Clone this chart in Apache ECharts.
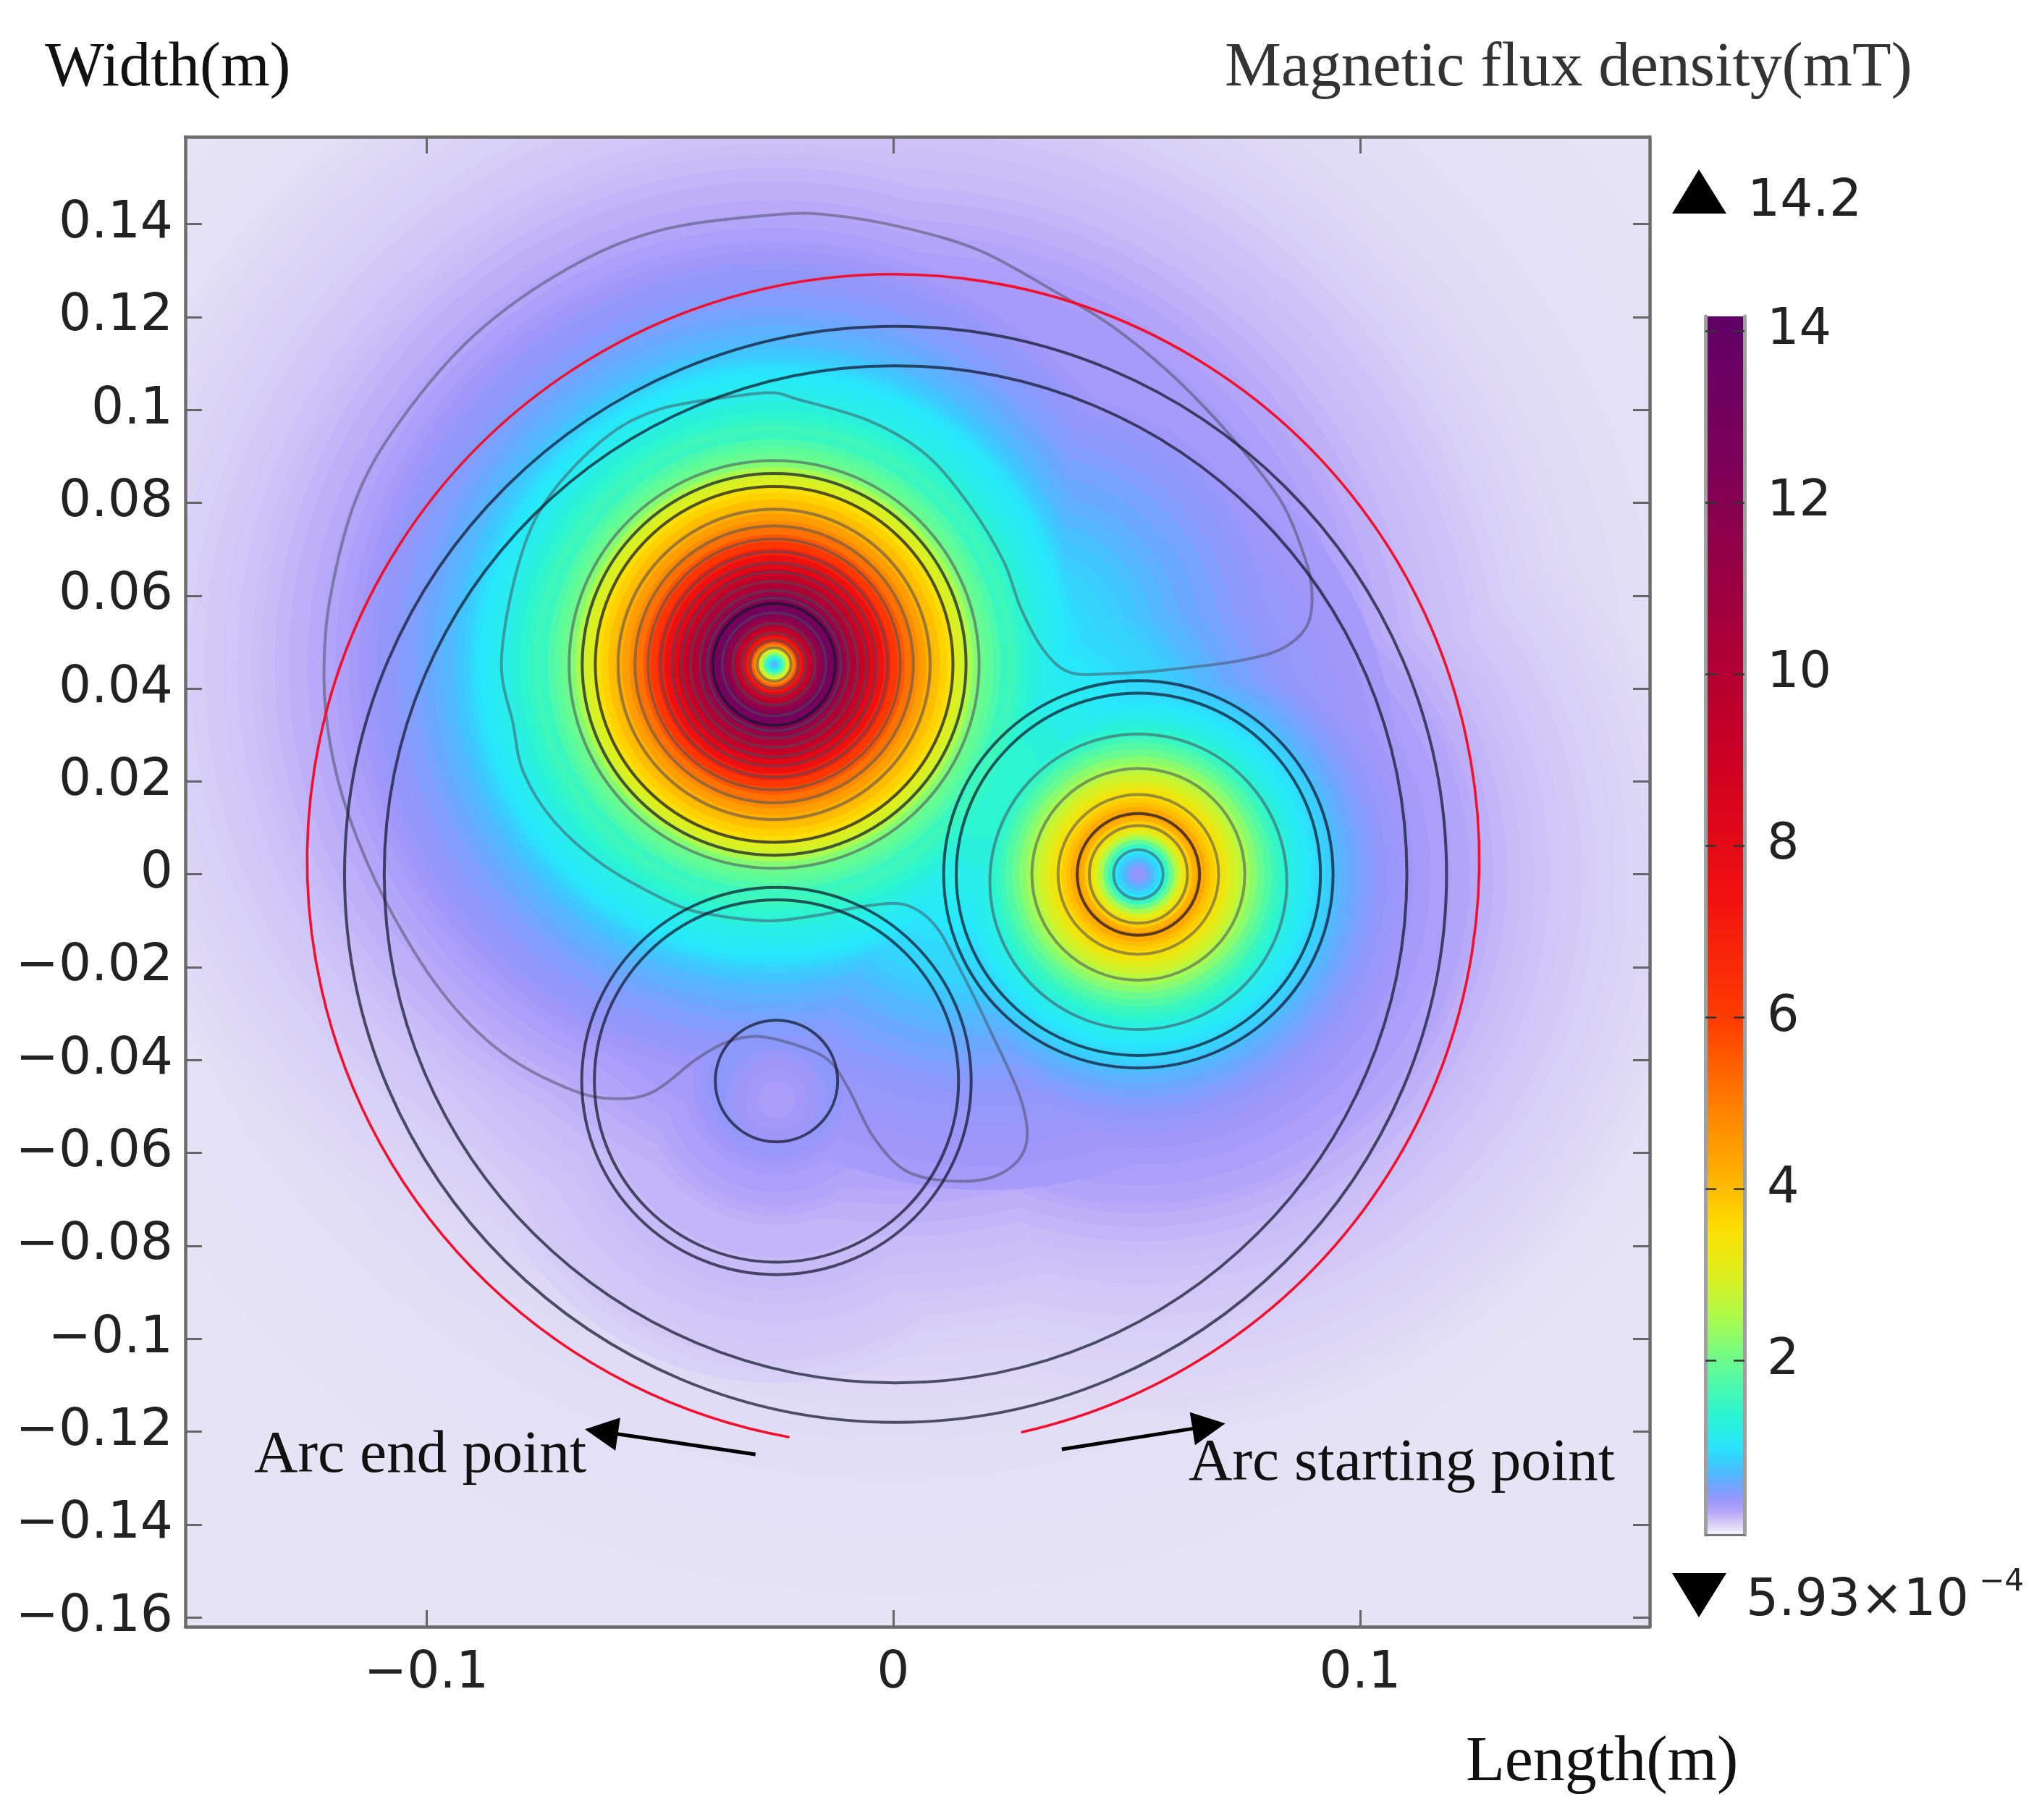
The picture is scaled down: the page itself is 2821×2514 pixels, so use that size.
<!DOCTYPE html>
<html>
<head>
<meta charset="utf-8">
<script src="https://cdn.jsdelivr.net/npm/echarts@6/dist/echarts.min.js"></script>
<style>
  html, body { margin: 0; padding: 0; background: #fff; }
  #chart { width: 2821px; height: 2514px; }
</style>
</head>
<body>
<div id="chart"></div>
<script>
// tick values
var xTicks = [-0.1, 0, 0.1];
var yTicks = [0.14, 0.12, 0.1, 0.08, 0.06, 0.04, 0.02, 0, -0.02, -0.04, -0.06, -0.08, -0.1, -0.12, -0.14, -0.16];
var barTicks = [2, 4, 6, 8, 10, 12, 14];

// conductor centres
var mainCentre = [-0.0255, 0.0452];
var rightCentre = [0.0525, 0];
var bottomCentre = [-0.025, -0.0445];
var gapCentre = [0.02, 0.02];
var tongueCentre = [0.03, 0.05];
var cableCentre = [0, 0.035];
var dipCentre = [-0.025, -0.0485];

// iso-bands of the field (mT) and how far each band reaches from each centre (m)
var bandValues = [0.055, 0.0625, 0.07, 0.0775, 0.085, 0.0925, 0.1, 0.1125, 0.125, 0.1375,
  0.15, 0.1625, 0.175, 0.1875, 0.2, 0.22, 0.24, 0.26, 0.28, 0.305,
  0.33, 0.355, 0.38, 0.4, 0.42,
  0.46, 0.5, 0.55, 0.6, 0.65, 0.7, 0.75, 0.8, 0.85, 0.9,
  0.95, 1.0, 1.05, 1.1, 1.15, 1.2, 1.3, 1.4, 1.5, 1.6];
var mainBandRadii = [0.16, 0.153, 0.147, 0.145, 0.142, 0.139, 0.136, 0.132, 0.129, 0.125,
  0.122, 0.118, 0.115, 0.112, 0.11, 0.107, 0.104, 0.1, 0.097, 0.094,
  0.091, 0.089, 0.087, 0.086, 0.085,
  0.082, 0.08, 0.077, 0.075, 0.073, 0.071, 0.069, 0.068, 0.0665, 0.0655,
  0.065, 0.0642, 0.063, 0.0615, 0.06, 0.0585, 0.0565, 0.0545, 0.0528, 0.0515];
var rightBandRadii = [0.13, 0.125, 0.12, 0.117, 0.115, 0.112, 0.109, 0.105, 0.102, 0.098,
  0.095, 0.091, 0.088, 0.085, 0.082, 0.079, 0.076, 0.073, 0.071, 0.067,
  0.0625, 0.059, 0.056, 0.0545, 0.053,
  0.0515, 0.05, 0.048, 0.0465, 0.045, 0.0435, 0.0425, 0.0415, 0.041, 0.04,
  0.039, 0.038, 0.037, 0.036, 0.035, 0.034, 0.0328, 0.0315, 0.0305, 0.0295];
var gapBandRadii = [0, 0, 0, 0, 0, 0, 0, 0, 0, 0,
  0, 0, 0, 0, 0, 0, 0, 0, 0, 0,
  0.088, 0.083, 0.078, 0.074, 0.07,
  0.067, 0.064, 0.061, 0.058, 0.055, 0.053, 0.05, 0.048, 0.046, 0.044,
  0.04, 0.036, 0.033, 0.03, 0.027, 0.024, 0.018, 0.012, 0, 0];
var tongueBandRadii = [0, 0, 0, 0, 0, 0, 0, 0, 0, 0,
  0, 0, 0, 0, 0, 0, 0, 0, 0, 0,
  0.056, 0.054, 0.052, 0.051, 0.05,
  0.047, 0.043, 0.04, 0.036, 0.032, 0.029, 0.026, 0.023, 0.02, 0.017,
  0.013, 0.01, 0, 0, 0, 0, 0, 0, 0, 0];
var cableBandRadii = [0.19, 0.177, 0.165, 0.157, 0.15, 0.146, 0.143, 0.139, 0.136, 0.133,
  0.13, 0.127, 0.125, 0.121, 0.117, 0.113, 0.11, 0.106, 0.103, 0.099,
  0.095, 0, 0, 0, 0,
  0, 0, 0, 0, 0, 0, 0, 0, 0, 0,
  0, 0, 0, 0, 0, 0, 0, 0, 0, 0];
var bottomBandRadii = [0, 0, 0, 0, 0, 0, 0, 0, 0.065, 0.062,
  0.06, 0.056, 0.052, 0.048, 0.045, 0.038, 0.031, 0.029, 0.027, 0.024,
  0.02, 0.018, 0.0165, 0.0155, 0.0145,
  0.013, 0, 0, 0, 0, 0, 0, 0, 0, 0,
  0, 0, 0, 0, 0, 0, 0, 0, 0, 0];

// radial profiles close to the conductors, outermost first
var mainProfileRadii = [0.05, 0.0485, 0.047, 0.0455, 0.0439, 0.0425, 0.0415, 0.0405, 0.0395, 0.0383, 0.037, 0.0355, 0.034, 0.0325, 0.031, 0.0295, 0.028, 0.0265, 0.025, 0.0235, 0.022, 0.0205, 0.019, 0.0175, 0.016, 0.0148, 0.0136, 0.0125, 0.0115, 0.0105, 0.0095, 0.0087, 0.008, 0.0073, 0.0066, 0.006, 0.0054, 0.0048, 0.0043, 0.0038, 0.0034, 0.003, 0.0026, 0.0022, 0.0018, 0.0014, 0.001, 0.0006];
var mainProfileValues = [1.55, 1.75, 1.9, 2.0, 2.2, 2.5, 2.8, 2.95, 3.05, 3.5, 3.75, 4.0, 4.2, 4.5, 4.8, 5.2, 5.6, 6.2, 6.9, 7.6, 8.2, 8.9, 9.6, 10.3, 11.1, 11.9, 12.6, 13, 12.6, 11.8, 11, 10.2, 9.5, 8.8, 8, 7.2, 6.4, 5.4, 4.7, 3.9, 3.3, 2.8, 2.3, 1.9, 1.5, 1.2, 0.9, 0.65];
var rightProfileRadii = [0.0285, 0.027, 0.0255, 0.024, 0.0228, 0.0215, 0.02, 0.0188, 0.0176, 0.0165, 0.0155, 0.0145, 0.0135, 0.0125, 0.0115, 0.0105, 0.0095, 0.0085, 0.0075, 0.0065, 0.0055, 0.0045, 0.0035, 0.0025, 0.0015];
var rightProfileValues = [1.8, 2, 2.25, 2.45, 2.65, 2.9, 3.1, 3.35, 3.55, 3.8, 4, 4.3, 4.6, 4.2, 3.8, 3.4, 3, 2.5, 2, 1.5, 1.1, 0.9, 0.72, 0.55, 0.42];
var dipProfileRadii = [0.011, 0.009, 0.0065, 0.004];
var dipProfileValues = [0.4, 0.37, 0.34, 0.31];

// drawn outlines (m)
var cableCentreX = 0.0005;
var cableRings = [0.1095, 0.118];
var mainShieldRings = [0.0383, 0.0411];
var sideShieldRings = [0.039, 0.0417];
var coreRing = 0.0131;
var mainContours = [0.0036, 0.0052, 0.0068, 0.0088, 0.0111, 0.0143, 0.0159, 0.0179, 0.0199, 0.0219, 0.0243, 0.027, 0.0298, 0.0334, 0.0439];
var rightContours = [0.0053, 0.0105, 0.0172, 0.0228];
var rightOuterContour = [0.0525, -0.0016, 0.0318];
var redArc = [0, 0.003, 0.1255, -77.4, 259.8];

// the single lobed contour that wraps the main conductor
var lobeX = [-0.0257, -0.0129, 0.0029, 0.0188, 0.0346, 0.0465, 0.0583, 0.0687, 0.0774, 0.0836, 0.0876, 0.0896, 0.0888, 0.0836, 0.0741, 0.0583, 0.0465, 0.0378, 0.0322, 0.0274, 0.0236, 0.0164, 0.007, -0.005, -0.0208, -0.0257, -0.0344, -0.0502, -0.062, -0.074, -0.0803, -0.0839, -0.0814, -0.0792, -0.0727, -0.0619, -0.0467, -0.0369, -0.0259, -0.015, -0.0064, 0.0023, 0.0088, 0.0143, 0.0208, 0.0273, 0.0285, 0.024, 0.0153, 0.0034, -0.0042, -0.0096, -0.014, -0.0216, -0.0291, -0.0358, -0.0423, -0.051, -0.0586, -0.0684, -0.0836, -0.0967, -0.1087, -0.1167, -0.1206, -0.1219, -0.1206, -0.115, -0.1056, -0.0898, -0.0699, -0.0502];
var lobeY = [0.142, 0.1419, 0.1391, 0.1342, 0.1255, 0.1183, 0.1088, 0.0984, 0.0881, 0.0794, 0.0698, 0.0619, 0.0539, 0.0488, 0.046, 0.044, 0.0432, 0.0435, 0.0483, 0.0571, 0.0675, 0.0794, 0.0904, 0.0976, 0.1024, 0.1037, 0.1029, 0.1001, 0.0937, 0.0809, 0.0666, 0.046, 0.0324, 0.022, 0.0115, 0.0019, -0.0065, -0.009, -0.01, -0.0086, -0.0069, -0.0065, -0.0108, -0.0204, -0.0337, -0.0483, -0.058, -0.0639, -0.0661, -0.0642, -0.0566, -0.0461, -0.0399, -0.0365, -0.0349, -0.0362, -0.0399, -0.0466, -0.0483, -0.0466, -0.0385, -0.0253, -0.0058, 0.0129, 0.0282, 0.0427, 0.0594, 0.0809, 0.0976, 0.116, 0.1303, 0.1386];

// arrows to the arc ends: from, to
var endArrow = [[-0.0295, -0.1249], [-0.0625, -0.12]];
var startArrow = [[0.0361, -0.1238], [0.0676, -0.1188]];

// colour scale anchors
var scaleValues = [0, 0.05, 0.2, 0.33, 0.45, 0.6, 0.8, 1.05, 1.4, 1.9, 2.5, 3, 3.6, 4.2, 4.8, 6, 7.5, 9, 11, 12.5, 14.2];
var scaleColors = ["#f4f2fc", "#e6e3f5", "#c8bcf8", "#a696f9", "#8e98fb", "#6aa8ff", "#3fc6ff", "#27e8fb", "#2cf5d0", "#5cfb9c", "#a8fb50", "#dcf020", "#ffdc00", "#ffb000", "#ff8c00", "#ff3c00", "#f01010", "#cc0022", "#9c0040", "#7c0058", "#600068"];

function sampleScale(step) {
  var out = [];
  for (var v = 0; v <= 14.2 + 1e-9; v += step) {
    var i = 0;
    while (i < scaleValues.length - 2 && v > scaleValues[i + 1]) i++;
    var t = (v - scaleValues[i]) / (scaleValues[i + 1] - scaleValues[i]);
    out.push(echarts.color.lerp(Math.min(t, 1), [scaleColors[i], scaleColors[i + 1]]));
  }
  return out;
}

// field discs painted low to high, each one is [cx, cy, r, value]
var fieldDiscs = [];
function addDisc(centre, r, v) {
  if (r > 0) fieldDiscs.push([centre[0], centre[1], r, v]);
}
bandValues.forEach(function (v, i) {
  addDisc(cableCentre, cableBandRadii[i], v);
  addDisc(mainCentre, mainBandRadii[i], v);
  addDisc(rightCentre, rightBandRadii[i], v);
  addDisc(gapCentre, gapBandRadii[i], v);
  addDisc(tongueCentre, tongueBandRadii[i], v);
  addDisc(bottomCentre, bottomBandRadii[i], v);
});
dipProfileRadii.forEach(function (r, i) { addDisc(dipCentre, r, dipProfileValues[i]); });
mainProfileRadii.forEach(function (r, i) { addDisc(mainCentre, r, mainProfileValues[i]); });
rightProfileRadii.forEach(function (r, i) { addDisc(rightCentre, r, rightProfileValues[i]); });

// outlines, each one is [cx, cy, r]
var blackRings = [];
cableRings.forEach(function (r) { blackRings.push([cableCentreX, 0, r]); });
mainShieldRings.forEach(function (r) { blackRings.push([mainCentre[0], mainCentre[1], r]); });
sideShieldRings.forEach(function (r) {
  blackRings.push([rightCentre[0], rightCentre[1], r]);
  blackRings.push([bottomCentre[0], bottomCentre[1], r]);
});
[mainCentre, rightCentre, bottomCentre].forEach(function (c) { blackRings.push([c[0], c[1], coreRing]); });

var grayRings = [rightOuterContour];
mainContours.forEach(function (r) { grayRings.push([mainCentre[0], mainCentre[1], r]); });
rightContours.forEach(function (r) { grayRings.push([rightCentre[0], rightCentre[1], r]); });

var lobeLine = lobeX.map(function (x, i) { return [x, lobeY[i]]; });

function discItem(params, api) {
  var c = api.coord([api.value(0), api.value(1)]);
  var s = api.size([api.value(2), api.value(2)]);
  return {
    type: "ellipse",
    shape: { cx: c[0], cy: c[1], rx: s[0], ry: s[1] },
    style: { fill: api.visual("color") },
  };
}

function ringItem(stroke, width) {
  return function (params, api) {
    var c = api.coord([api.value(0), api.value(1)]);
    var s = api.size([api.value(2), api.value(2)]);
    return {
      type: "ellipse",
      shape: { cx: c[0], cy: c[1], rx: s[0], ry: s[1] },
      style: { fill: null, stroke: stroke, lineWidth: width },
    };
  };
}

function arcItem(params, api) {
  var c = api.coord([api.value(0), api.value(1)]);
  var s = api.size([api.value(2), api.value(2)]);
  return {
    type: "arc",
    shape: {
      cx: c[0],
      cy: c[1],
      r: s[0],
      startAngle: (-api.value(3) * Math.PI) / 180,
      endAngle: (-api.value(4) * Math.PI) / 180,
      clockwise: false,
    },
    style: { fill: null, stroke: "#f2102e", lineWidth: 3.6 },
  };
}

// one curved piece of the closed lobe, from point i to point i + 1
function lobeItem(params, api) {
  var n = lobeLine.length;
  var i = params.dataIndex;
  var p0 = api.coord(lobeLine[(i - 1 + n) % n]);
  var p1 = api.coord(lobeLine[i]);
  var p2 = api.coord(lobeLine[(i + 1) % n]);
  var p3 = api.coord(lobeLine[(i + 2) % n]);
  return {
    type: "bezierCurve",
    shape: {
      x1: p1[0],
      y1: p1[1],
      x2: p2[0],
      y2: p2[1],
      cpx1: p1[0] + (p2[0] - p0[0]) / 6,
      cpy1: p1[1] + (p2[1] - p0[1]) / 6,
      cpx2: p2[0] - (p3[0] - p1[0]) / 6,
      cpy2: p2[1] - (p3[1] - p1[1]) / 6,
    },
    style: { fill: null, stroke: "rgba(72,72,92,0.5)", lineWidth: 4 },
  };
}

function tickLabel(v) {
  return String(v).replace("-", "\u2212");
}

var labelFont = { fontFamily: "DejaVu Sans", fontSize: 71, color: "#222" };
var frameLine = { show: true, onZero: false, lineStyle: { color: "#6c6c6c", width: 4.5 } };

function plotAxis(position, min, max, ticks, showLabels, margin) {
  return {
    type: "value",
    gridIndex: 0,
    position: position,
    min: min,
    max: max,
    z: 6,
    axisLine: frameLine,
    splitLine: { show: false },
    axisTick: {
      show: true,
      inside: true,
      length: 23,
      customValues: ticks,
      lineStyle: { color: "#666", width: 3 },
    },
    axisLabel: {
      show: showLabels,
      customValues: ticks,
      margin: margin,
      formatter: tickLabel,
      fontFamily: labelFont.fontFamily,
      fontSize: labelFont.fontSize,
      color: labelFont.color,
    },
  };
}

function barAxis(position, showLabels) {
  return {
    type: "value",
    gridIndex: 1,
    position: position,
    min: -0.03,
    max: 14.17,
    z: 10,
    axisLine: { show: true, onZero: false, lineStyle: { color: "#a0a0a0", width: 5 } },
    splitLine: { show: false },
    axisTick: {
      show: true,
      inside: true,
      length: 15,
      customValues: barTicks,
      lineStyle: { color: "#333", width: 2.5 },
    },
    axisLabel: {
      show: showLabels,
      customValues: barTicks,
      margin: 31,
      fontFamily: labelFont.fontFamily,
      fontSize: 70,
      color: labelFont.color,
    },
  };
}

function note(x, y, text, family, size, align, fill) {
  return {
    type: "text",
    x: x,
    y: y,
    z: 50,
    style: {
      text: text,
      fontFamily: family,
      fontSize: size,
      fill: fill || "#111",
      textAlign: align || "left",
      textVerticalAlign: "middle",
    },
  };
}

var chart = echarts.init(document.getElementById("chart"));
chart.setOption({
  animation: false,
  backgroundColor: "#fff",
  grid: [
    { left: 256, right: 542, top: 189, bottom: 267, show: true, backgroundColor: "#e6e3f5", borderWidth: 0 },
    { left: 2356, width: 54, top: 437, height: 1683 },
  ],
  xAxis: [
    plotAxis("bottom", -0.1516, 0.162, xTicks, true, 30),
    plotAxis("top", -0.1516, 0.162, xTicks, false, 8),
    {
      type: "value",
      gridIndex: 1,
      min: 0,
      max: 1,
      z: 10,
      axisLine: { show: true, onZero: false, lineStyle: { color: "#777", width: 3 } },
      axisTick: { show: false },
      axisLabel: { show: false },
      splitLine: { show: false },
    },
  ],
  yAxis: [
    plotAxis("left", -0.162, 0.1588, yTicks, true, 17),
    plotAxis("right", -0.162, 0.1588, yTicks, false, 8),
    barAxis("left", false),
    barAxis("right", true),
  ],
  visualMap: {
    type: "continuous",
    seriesIndex: 0,
    dimension: 3,
    min: 0,
    max: 14.2,
    calculable: false,
    hoverLink: false,
    left: 2356,
    top: 437,
    itemWidth: 54,
    itemHeight: 1683,
    padding: 0,
    text: null,
    showLabel: false,
    inRange: { color: sampleScale(0.05) },
  },
  series: [
    {
      name: "Magnetic flux density",
      type: "custom",
      xAxisIndex: 0,
      yAxisIndex: 0,
      coordinateSystem: "cartesian2d",
      clip: true,
      z: 2,
      silent: true,
      progressive: 0,
      encode: { x: 0, y: 1 },
      renderItem: discItem,
      data: fieldDiscs,
    },
    {
      name: "Contours",
      type: "custom",
      coordinateSystem: "cartesian2d",
      clip: true,
      z: 3,
      silent: true,
      encode: { x: 0, y: 1 },
      renderItem: ringItem("rgba(72,72,92,0.55)", 4),
      data: grayRings,
    },
    {
      name: "Lobed contour",
      type: "custom",
      coordinateSystem: "cartesian2d",
      clip: true,
      z: 3,
      silent: true,
      encode: { x: 0, y: 1 },
      renderItem: lobeItem,
      data: lobeLine,
    },
    {
      name: "Cable outlines",
      type: "custom",
      coordinateSystem: "cartesian2d",
      clip: true,
      z: 4,
      silent: true,
      encode: { x: 0, y: 1 },
      renderItem: ringItem("rgba(18,22,44,0.72)", 4),
      data: blackRings,
    },
    {
      name: "Arc",
      type: "custom",
      coordinateSystem: "cartesian2d",
      clip: true,
      z: 4,
      silent: true,
      encode: { x: 0, y: 1 },
      renderItem: arcItem,
      data: [redArc],
    },
    {
      name: "Arc ends",
      type: "line",
      xAxisIndex: 0,
      yAxisIndex: 0,
      z: 5,
      silent: true,
      symbol: "none",
      lineStyle: { width: 0 },
      data: [endArrow[0], startArrow[0]],
      markLine: {
        silent: true,
        symbol: ["none", "triangle"],
        symbolSize: 46,
        label: { show: false },
        lineStyle: { color: "#000", width: 5, type: "solid" },
        data: [
          [{ coord: endArrow[0] }, { coord: endArrow[1] }],
          [{ coord: startArrow[0] }, { coord: startArrow[1] }],
        ],
      },
    },
  ],
  graphic: [
    note(62, 95, "Width(m)", "Liberation Serif", 87),
    note(1692, 95, "Magnetic flux density(mT)", "Liberation Serif", 87.7, "left", "#333"),
    note(2025, 2436, "Length(m)", "Liberation Serif", 88),
    note(351, 2011, "Arc end point", "Liberation Serif", 83.5),
    note(1642, 2022, "Arc starting point", "Liberation Serif", 83.5),
    note(2414, 280, "14.2", "DejaVu Sans", 71, "left", "#222"),
    note(2412, 2213, "5.93\u00d710", "DejaVu Sans", 71, "left", "#222"),
    note(2734, 2186, "\u22124", "DejaVu Sans", 42, "left", "#222"),
    {
      type: "polygon",
      z: 50,
      shape: { points: [[2310, 295], [2385, 295], [2347, 234]] },
      style: { fill: "#000" },
    },
    {
      type: "polygon",
      z: 50,
      shape: { points: [[2310, 2173], [2385, 2173], [2347, 2234]] },
      style: { fill: "#000" },
    },
  ],
});
</script>
</body>
</html>
